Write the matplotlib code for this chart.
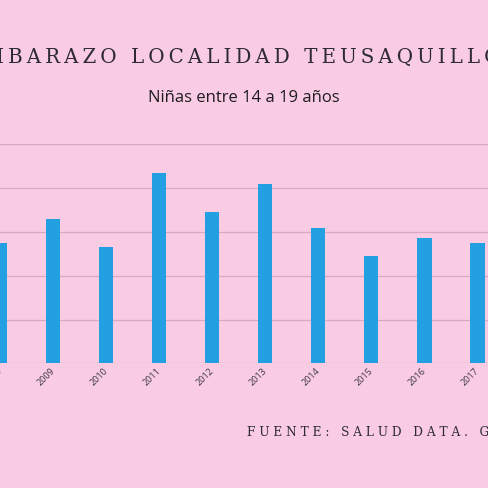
import numpy as np
import matplotlib
matplotlib.use('Agg')
import matplotlib.pyplot as plt
from matplotlib import transforms

""" Datos: embarazos por anio (valores leidos del grafico) """
anios = ['2008', '2009', '2010', '2011', '2012', '2013', '2014', '2015', '2016', '2017']
casos = [55, 66, 53, 87, 69, 82, 62, 49, 57, 55]

titulo = 'EMBARAZO LOCALIDAD TEUSAQUILLO'
subtitulo = 'Niñas entre 14 a 19 años'
fuente = 'FUENTE: SALUD DATA. GOV.CO'

fondo = '#f9cce3'
azul = '#23a0e1'
rejilla = '#d9a8c2'
texto = '#2e2a36'


def espaciar(s, sep):
    """ separa las letras para simular el tracking """
    return sep.join(list(s))


fig = plt.figure(figsize=(4.88, 4.88), dpi=100, facecolor=fondo)

""" Ejes: la grafica se sale del lienzo por los lados """
ax = fig.add_axes([0, (488 - 363.3) / 488, 1, (363.3 - 144.3) / 488])
ax.set_facecolor(fondo)
x = np.arange(len(anios))
ax.bar(x, casos, width=0.28, color=azul, zorder=3)
ax.set_xlim(4.5 / 53.5, 4.5 / 53.5 + 488 / 53.5)
ax.set_ylim(0, 100)
ax.set_yticks(np.arange(0, 101, 20))
ax.yaxis.grid(True, color=rejilla, linewidth=0.9, zorder=0)
ax.tick_params(axis='y', left=False, labelleft=False)
ax.tick_params(axis='x', length=0, pad=2)
ax.set_xticks(x)
ax.set_xticklabels(anios, rotation=45, ha='right', rotation_mode='anchor',
                   fontsize=6.5, color='#3c3642', family='Open Sans')
desplaza = transforms.ScaledTranslation(-3 / 100, 0, fig.dpi_scale_trans)
for lab in ax.get_xticklabels():
    lab.set_transform(lab.get_transform() + desplaza)
for s in ax.spines.values():
    s.set_visible(False)

fig.text(233 / 488, 1 - 58 / 488, espaciar(titulo, '\u2009'), ha='center', va='center',
         fontsize=14.3, color=texto, family='DejaVu Serif')
fig.text(244 / 488, 1 - 98 / 488, subtitulo, ha='center', va='center',
         fontsize=12, color='#1e1b22', family='Open Sans')
fig.text(247 / 488, 1 - 432.5 / 488, espaciar(fuente, ' '), ha='left', va='center',
         fontsize=8.7, color=texto, family='DejaVu Serif')

fig.savefig('out.png', dpi=100, facecolor=fondo)
